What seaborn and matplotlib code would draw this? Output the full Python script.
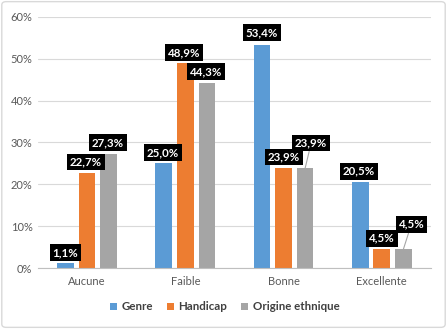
import matplotlib
matplotlib.use("Agg")
import matplotlib.pyplot as plt
import seaborn as sns
import pandas as pd
from matplotlib.patches import FancyBboxPatch
from matplotlib.ticker import FuncFormatter

categories = ["Aucune", "Faible", "Bonne", "Excellente"]
series = ["Genre", "Handicap", "Origine ethnique"]
genre = [1.1, 25.0, 53.4, 20.5]
handicap = [22.7, 48.9, 23.9, 4.5]
origine = [27.3, 44.3, 23.9, 4.5]
yticks = [0, 10, 20, 30, 40, 50, 60]

colors = ["#5B9BD5", "#ED7D31", "#A5A5A5"]
# label offsets in pixels (dx, dy) relative to bar top, per series/category
offsets = {
    "Genre": [(0, 11), (-1, 11), (0, 12), (-1, 11)],
    "Handicap": [(-1, 11), (-1, 11), (0, 11), (0, 11)],
    "Origine ethnique": [(-1, 11), (-1, 11), (6, 25), (8, 25)],
}

rows = []
for s, vals in zip(series, [genre, handicap, origine]):
    for c, v in zip(categories, vals):
        rows.append({"cat": c, "serie": s, "val": v})
df = pd.DataFrame(rows)

sns.set_style("white")
plt.rcParams["font.family"] = ["Lato", "DejaVu Sans"]

fig = plt.figure(figsize=(4.47, 3.29), dpi=100)
fig.patches.append(FancyBboxPatch((0.004, 0.005), 0.992, 0.99, boxstyle="round,pad=0,rounding_size=0.01",
                                  transform=fig.transFigure, fc="none", ec="#D9D9D9", lw=1, zorder=10))
ax = fig.add_axes([0.085, 0.1854, 0.879, 0.763])
ax.set_facecolor("none")

sns.barplot(data=df, x="cat", y="val", hue="serie", order=categories, hue_order=series,
            palette=colors, width=0.66, gap=0.23, ax=ax, legend=True, saturation=1,
            edgecolor="none", linewidth=0)

ax.set_ylim(0, 60)
ax.set_xlim(-0.5, 3.5)
ax.set_yticks(yticks)
ax.yaxis.set_major_formatter(FuncFormatter(lambda v, p: f"{v:.0f}%"))
ax.grid(axis="y", color="#D9D9D9", lw=0.8)
ax.set_axisbelow(True)
for sp in ["top", "right", "left"]:
    ax.spines[sp].set_visible(False)
ax.spines["bottom"].set_color("#BFBFBF")
ax.spines["bottom"].set_linewidth(0.8)
ax.tick_params(axis="both", length=0, labelsize=8, colors="#595959", pad=6)
ax.tick_params(axis="y", pad=4)
ax.set_xlabel("")
ax.set_ylabel("")

for cont, s in zip(ax.containers, series):
    for bar, (dx, dy) in zip(cont, offsets[s]):
        v = bar.get_height()
        x = bar.get_x() + bar.get_width() / 2
        txt = f"{v:.1f}".replace(".", ",") + "%"
        arrow = dict(arrowstyle="-", color="#A6A6A6", lw=0.8, shrinkA=0, shrinkB=0) if dy > 15 else None
        ax.annotate(txt, xy=(x, v), xytext=(dx, dy), textcoords="offset pixels",
                    ha="center", va="center", color="white", fontsize=8.3, fontweight="bold",
                    bbox=dict(boxstyle="square,pad=0.25", fc="black", ec="none"),
                    arrowprops=arrow, annotation_clip=False)

leg = ax.legend(loc="center", bbox_to_anchor=(0.503, 22 / 329), bbox_transform=fig.transFigure,
                ncol=3, frameon=False, handlelength=0.6, handleheight=0.6,
                handletextpad=0.4, columnspacing=1.2, prop={"weight": "bold", "size": 8.3})
for t in leg.get_texts():
    t.set_color("#404040")

fig.savefig("out.png", dpi=100)
